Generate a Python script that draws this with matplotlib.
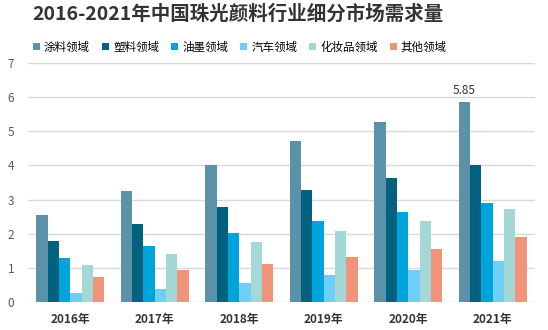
import numpy as np
import matplotlib.pyplot as plt

plt.rcParams['font.family'] = ['Noto Sans CJK SC', 'DejaVu Sans']

years = ['2016年', '2017年', '2018年', '2019年', '2020年', '2021年']
series = ['涂料领域', '塑料领域', '油墨领域', '汽车领域', '化妆品领域', '其他领域']
coating = [2.56, 3.26, 4.02, 4.73, 5.28, 5.85]
plastic = [1.80, 2.29, 2.79, 3.29, 3.64, 4.02]
ink = [1.30, 1.65, 2.03, 2.38, 2.65, 2.91]
auto = [0.25, 0.39, 0.57, 0.80, 0.95, 1.21]
cosmetic = [1.09, 1.42, 1.77, 2.09, 2.38, 2.73]
other = [0.74, 0.95, 1.12, 1.33, 1.56, 1.91]
colors = ['#5b91a9', '#00627f', '#00a4dc', '#6dcff6', '#a3d8d6', '#ef937a']

values = [coating, plastic, ink, auto, cosmetic, other]

fig = plt.figure(figsize=(5.48, 3.30), dpi=100)
ax = fig.add_axes([28 / 548, 1 - 302 / 330, 507 / 548, 239 / 330])

x = np.arange(len(years))
width = 0.8 / len(series)
for i, (name, vals) in enumerate(zip(series, values)):
    ax.bar(x - 0.4 + width * (i + 0.5), vals, width, color=colors[i], label=name, zorder=2)

# label on the last coating bar
ax.text(x[-1] - 0.4 + width * 0.5, coating[-1] + 0.15, f'{coating[-1]:.2f}',
        ha='center', va='bottom', fontsize=8.5, color='#333333')

ax.set_xlim(-0.5, 5.5)
ax.set_ylim(0, 7)
ax.set_yticks(range(8))
ax.yaxis.grid(True, color='#d9d9d9', linewidth=1, zorder=0)
for s in ax.spines.values():
    s.set_visible(False)
ax.tick_params(length=0)
ax.tick_params(axis='y', labelcolor='#595959', labelsize=8.5, pad=10)
ax.set_xticks(x)
ax.set_xticklabels(years, fontsize=8.5, fontweight='bold', color='#333333')
ax.tick_params(axis='x', pad=8)

fig.text(238 / 548, 1 - 14 / 330, '2016-2021年中国珠光颜料行业细分市场需求量',
         ha='center', va='center', fontsize=14, fontweight='bold', color='#333333')

fig.legend(loc='center left', bbox_to_anchor=(33 / 548, 1 - 47 / 330), ncol=6,
           frameon=False, fontsize=8.3, handlelength=0.6, handleheight=0.6,
           handletextpad=0.35, columnspacing=1.05, borderaxespad=0, borderpad=0)

fig.savefig('out.png', dpi=100)
